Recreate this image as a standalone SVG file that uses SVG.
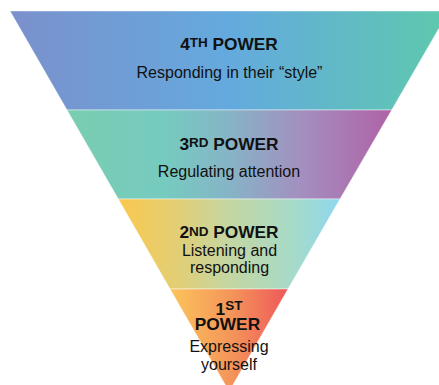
<svg xmlns="http://www.w3.org/2000/svg" width="439" height="385" viewBox="0 0 439 385">
  <defs>
    <linearGradient id="g4" x1="0" y1="0" x2="1" y2="0">
      <stop offset="0" stop-color="#7b90cc"/>
      <stop offset="0.5" stop-color="#64aade"/>
      <stop offset="1" stop-color="#5ec9ad"/>
    </linearGradient>
    <linearGradient id="g3" x1="0" y1="0" x2="1" y2="0">
      <stop offset="0" stop-color="#79cdb0"/>
      <stop offset="0.3" stop-color="#76cbc0"/>
      <stop offset="0.5" stop-color="#86b4c6"/>
      <stop offset="0.72" stop-color="#a38fc0"/>
      <stop offset="1" stop-color="#b062a6"/>
    </linearGradient>
    <linearGradient id="g2" x1="0" y1="0" x2="1" y2="0">
      <stop offset="0" stop-color="#fbc84d"/>
      <stop offset="0.28" stop-color="#e0cf78"/>
      <stop offset="0.5" stop-color="#c4d6a2"/>
      <stop offset="0.77" stop-color="#a8dac6"/>
      <stop offset="1" stop-color="#8ed8ee"/>
    </linearGradient>
    <linearGradient id="g1" x1="0" y1="0" x2="1" y2="0">
      <stop offset="0" stop-color="#fcc45b"/>
      <stop offset="0.5" stop-color="#f4975a"/>
      <stop offset="1" stop-color="#ef585a"/>
    </linearGradient>
  </defs>
  <style>
    .band { stroke: #ffffff; stroke-opacity: 0.45; stroke-width: 1; }
    text { font-family: "Liberation Sans", Arial, sans-serif; fill: #111111; text-anchor: middle; }
    .head { font-size: 17.3px; font-weight: bold; }
    .sup { font-size: 13.5px; }
    .body { font-size: 16px; }
  </style>

  <!-- 4th power: widest band at the top -->
  <g id="power4">
    <polygon class="band" fill="url(#g4)" points="10,11 449,11 391.7,110 67,110"/>
    <text class="head" x="229" y="50">4<tspan class="sup" dy="-2.7">TH</tspan><tspan dy="2.7"> POWER</tspan></text>
    <text class="body" x="229.5" y="78">Responding in their “style”</text>
  </g>

  <!-- 3rd power -->
  <g id="power3">
    <polygon class="band" fill="url(#g3)" points="67,110 391.7,110 340,199 118.3,199"/>
    <text class="head" x="229" y="150">3<tspan class="sup" dy="-2.7">RD</tspan><tspan dy="2.7"> POWER</tspan></text>
    <text class="body" x="229" y="177">Regulating attention</text>
  </g>

  <!-- 2nd power -->
  <g id="power2">
    <polygon class="band" fill="url(#g2)" points="118.3,199 340,199 288,289 170,289"/>
    <text class="head" x="229" y="238.3">2<tspan class="sup" dy="-2.7">ND</tspan><tspan dy="2.7"> POWER</tspan></text>
    <text class="body" x="229.5" y="256">Listening and</text>
    <text class="body" x="229.5" y="272.7">responding</text>
  </g>

  <!-- 1st power: the tip of the funnel; the heading wraps onto two lines -->
  <g id="power1">
    <polygon class="band" fill="url(#g1)" points="170,289 288,289 229.1,391.4"/>
    <text class="head"><tspan x="229" y="315">1</tspan><tspan class="sup" dy="-5">ST</tspan><tspan x="227.5" y="330">POWER</tspan></text>
    <text class="body" x="229" y="352.3">Expressing</text>
    <text class="body" x="229" y="370">yourself</text>
  </g>
</svg>
